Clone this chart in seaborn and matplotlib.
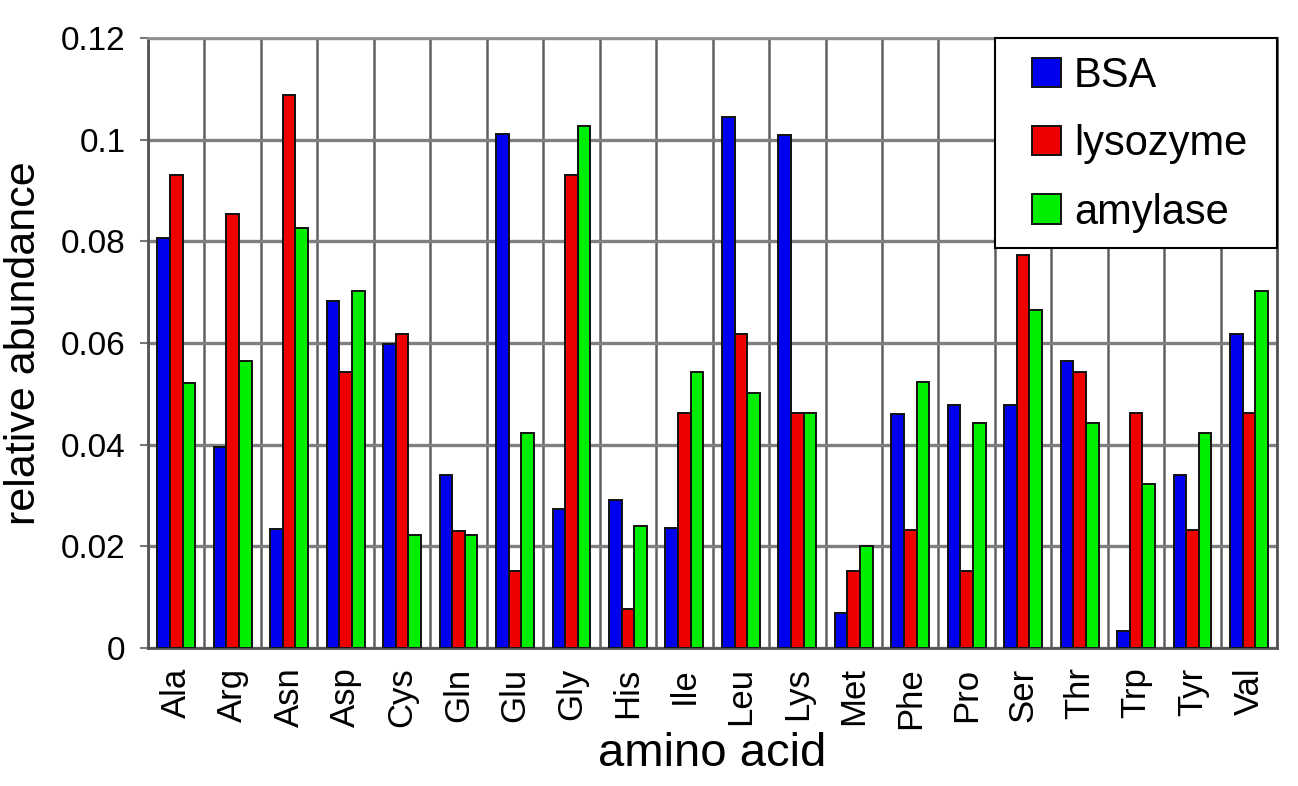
import matplotlib

matplotlib.use("Agg")

import matplotlib.pyplot as plt
from matplotlib.patches import Rectangle
import numpy as np
import pandas as pd
import seaborn as sns

amino_acids = ["Ala", "Arg", "Asn", "Asp", "Cys", "Gln", "Glu", "Gly", "His", "Ile",
               "Leu", "Lys", "Met", "Phe", "Pro", "Ser", "Thr", "Trp", "Tyr", "Val"]
proteins = ["BSA", "lysozyme", "amylase"]

bsa = [0.0806, 0.0396, 0.0235, 0.0683, 0.0599, 0.0341, 0.1011, 0.0273, 0.0291, 0.0237,
       0.1045, 0.1010, 0.0069, 0.0461, 0.0479, 0.0479, 0.0565, 0.0033, 0.0341, 0.0618]
lysozyme = [0.0930, 0.0853, 0.1087, 0.0542, 0.0618, 0.0231, 0.0152, 0.0930, 0.0077, 0.0463,
            0.0618, 0.0463, 0.0152, 0.0233, 0.0152, 0.0774, 0.0542, 0.0463, 0.0233, 0.0463]
amylase = [0.0522, 0.0565, 0.0827, 0.0703, 0.0223, 0.0223, 0.0422, 0.1026, 0.0240, 0.0542,
           0.0502, 0.0463, 0.0201, 0.0523, 0.0442, 0.0664, 0.0442, 0.0322, 0.0422, 0.0703]

colors = ["#0000EC", "#EE0000", "#00EE00"]
yticks = [0, 0.02, 0.04, 0.06, 0.08, 0.1, 0.12]
ytick_labels = ["0", "0.02", "0.04", "0.06", "0.08", "0.1", "0.12"]


def main() -> None:
    df = pd.DataFrame(
        {
            "amino acid": amino_acids * 3,
            "protein": np.repeat(proteins, len(amino_acids)),
            "abundance": bsa + lysozyme + amylase,
        }
    )

    sns.set_theme(style="white")
    plt.rcParams["font.family"] = ["Liberation Sans", "DejaVu Sans"]
    plt.rcParams["text.color"] = "black"
    plt.rcParams["axes.labelcolor"] = "black"

    fig = plt.figure(figsize=(12.98, 7.86), dpi=100)
    ax = fig.add_axes([0.114, 0.1756, 0.870, 0.776])

    sns.barplot(
        data=df,
        x="amino acid",
        y="abundance",
        hue="protein",
        palette=colors,
        saturation=1,
        width=0.67,
        edgecolor="#111111",
        linewidth=1.4,
        errorbar=None,
        ax=ax,
        zorder=3,
    )

    ax.set_xlim(-0.5, len(amino_acids) - 0.5)
    ax.set_ylim(0, 0.12)
    ax.set_yticks(yticks)
    ax.set_yticklabels(ytick_labels, fontsize=24)
    ax.set_xticks(range(len(amino_acids)))
    ax.set_xticklabels(amino_acids, rotation=90, fontsize=25)
    ax.set_xticks(np.arange(-0.5, len(amino_acids)), minor=True)
    ax.tick_params(axis="x", which="major", length=0, pad=14, labelcolor="black")
    ax.tick_params(axis="x", which="minor", length=8, width=1.5, color="#555555")
    ax.tick_params(axis="y", length=6, width=1.5, color="#777777", pad=10, left=True,
                   labelcolor="black")

    ax.set_axisbelow(True)
    ax.yaxis.grid(True, color="#808080", linewidth=2.4)
    ax.xaxis.grid(True, which="minor", color="#606060", linewidth=1.8)
    ax.xaxis.grid(False, which="major")
    for side, spine in ax.spines.items():
        spine.set_color("#909090" if side == "top" else "#555555")
        spine.set_linewidth(2)

    ax.set_xlabel("amino acid", fontsize=34, labelpad=2)
    ax.set_ylabel("relative abundance", fontsize=31, labelpad=12)

    # legend frame spans the upper right corner of the plot
    frame_x0, frame_y0 = 0.7504, 0.656
    ax.add_patch(
        Rectangle(
            (frame_x0, frame_y0),
            1 - frame_x0,
            1 - frame_y0,
            transform=ax.transAxes,
            facecolor="white",
            edgecolor="black",
            linewidth=1.5,
            zorder=4,
            clip_on=False,
        )
    )
    handles, labels = ax.get_legend_handles_labels()
    leg = ax.legend(
        handles,
        labels,
        loc="center",
        bbox_to_anchor=((1 + frame_x0) / 2 + 0.003, (1 + frame_y0) / 2 - 0.002),
        borderaxespad=0,
        fontsize=30,
        frameon=False,
        handlelength=0.7,
        handleheight=0.7,
        handletextpad=0.3,
        labelspacing=0.68,
        borderpad=0.2,
    )
    leg.set_zorder(5)

    fig.savefig("out.png", dpi=100)
    plt.close(fig)


if __name__ == "__main__":
    main()
